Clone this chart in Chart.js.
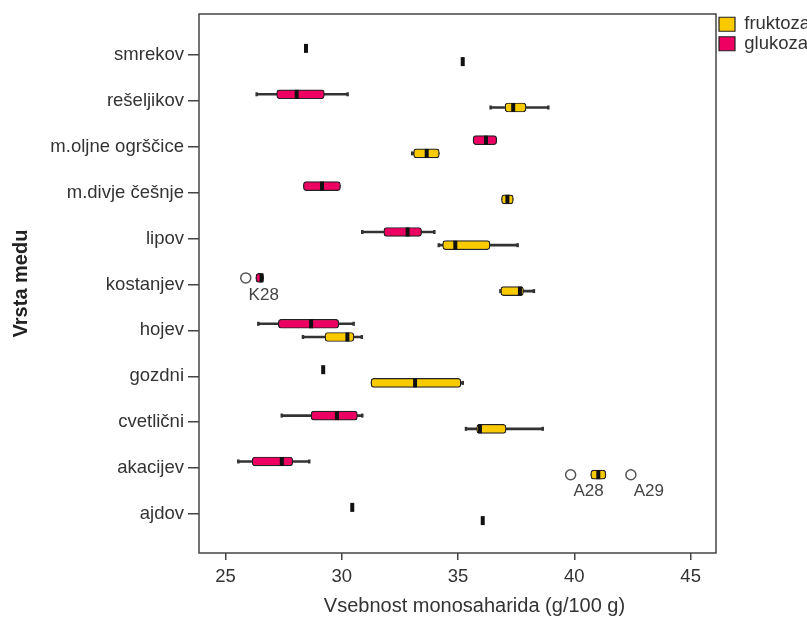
<!DOCTYPE html>
<html>
<head>
<meta charset="utf-8">
<script src="https://cdn.jsdelivr.net/npm/chart.js@4.4.1/dist/chart.umd.min.js"></script>
<style>
  html, body { margin: 0; padding: 0; background: #fff; }
  #wrap { width: 807px; height: 618px; }
</style>
</head>
<body>
<div id="wrap"><canvas id="boxChart"></canvas></div>
<script>
const categories = ["smrekov", "rešeljikov", "m.oljne ogrščice", "m.divje češnje", "lipov",
  "kostanjev", "hojev", "gozdni", "cvetlični", "akacijev", "ajdov"];
const xTicks = [25, 30, 35, 40, 45];

// fruktoza: min, Q1, mediana, Q3, max
const fruMin = [35.2, 36.40, 33.03, 36.87, 34.17, 36.82, 28.33, 31.26, 35.34, 40.71, 36.06];
const fruQ1  = [35.2, 37.02, 33.09, 36.87, 34.34, 36.84, 29.28, 31.26, 35.80, 40.71, 36.06];
const fruMed = [35.2, 37.37, 33.65, 37.12, 34.88, 37.66, 30.24, 33.15, 35.94, 41.03, 36.06];
const fruQ3  = [35.2, 37.92, 34.19, 37.37, 36.37, 37.81, 30.52, 35.12, 37.06, 41.35, 36.06];
const fruMax = [35.2, 38.88, 34.19, 37.37, 37.56, 38.26, 30.86, 35.20, 38.64, 41.35, 36.06];

// glukoza
const gluMin = [28.46, 26.34, 35.65, 28.35, 30.88, 26.31, 26.41, 29.2, 27.42, 25.55, 30.45];
const gluQ1  = [28.46, 27.20, 35.65, 28.35, 31.81, 26.31, 27.27, 29.2, 28.68, 26.15, 30.45];
const gluMed = [28.46, 28.06, 36.20, 29.15, 32.83, 26.55, 28.68, 29.2, 29.79, 27.42, 30.45];
const gluQ3  = [28.46, 29.25, 36.66, 29.94, 33.43, 26.63, 29.87, 29.2, 30.67, 27.89, 30.45];
const gluMax = [28.46, 30.25, 36.66, 29.94, 33.98, 26.63, 30.51, 29.2, 30.88, 28.60, 30.45];

// osamelci
const fruOutliers = [39.84, 42.43];
const fruOutlierCat = ["akacijev", "akacijev"];
const fruOutlierLabel = ["A28", "A29"];
const gluOutliers = [25.87];
const gluOutlierCat = ["kostanjev"];
const gluOutlierLabel = ["K28"];

const FRU_COLOR = "#FACA00";
const GLU_COLOR = "#EE0062";
const OFF = 0.144; // odmik serije od črte kategorije
const FONT = "'Liberation Sans', Arial, sans-serif";

Chart.defaults.font.family = FONT;
Chart.defaults.color = "#333";

function boxData(q1, q3, off) {
  return categories.map((c, i) => ({ x: [q1[i], q3[i]], y: i + off }));
}
function whiskerData(mn, mx, off) {
  return categories.map((c, i) => ({ x: [mn[i], mx[i]], y: i + off }));
}
function medianData(med, off) {
  return categories.map((c, i) => ({ x: med[i], y: i + off }));
}
function capData(mn, q1, q3, mx, off) {
  const pts = [];
  categories.forEach((c, i) => {
    if (mn[i] < q1[i]) pts.push({ x: mn[i], y: i + off });
    if (mx[i] > q3[i]) pts.push({ x: mx[i], y: i + off });
  });
  return pts;
}
function outlierData(vals, cats, off) {
  return vals.map((v, k) => ({ x: v, y: categories.indexOf(cats[k]) + off }));
}

const boxStyle = {
  type: "bar", indexAxis: "y", grouped: false, barThickness: 9, barPercentage: 1,
  borderColor: "#222", borderWidth: 1.2, borderRadius: 3, borderSkipped: false, order: 1,
};
const whiskerStyle = {
  type: "bar", indexAxis: "y", grouped: false, barThickness: 2, barPercentage: 1,
  backgroundColor: "#333", borderWidth: 0, order: 3,
};
const medianStyle = {
  type: "scatter", pointStyle: "line", pointRotation: 90, pointRadius: 4.5,
  pointBorderWidth: 4, pointBorderColor: "#111", order: 0,
};
const capStyle = {
  type: "scatter", pointStyle: "line", pointRotation: 90, pointRadius: 2,
  pointBorderWidth: 2.5, pointBorderColor: "#333", order: 2,
};
const outlierStyle = {
  type: "scatter", pointStyle: "circle", pointRadius: 5, pointBorderWidth: 1.5,
  pointBorderColor: "#555", pointBackgroundColor: "#fff", order: 0,
};

// okvir okoli risalne površine
const frame = {
  id: "frame",
  beforeDatasetsDraw(chart) {
    const { ctx, chartArea: a } = chart;
    ctx.save();
    ctx.strokeStyle = "#444";
    ctx.lineWidth = 1.5;
    ctx.strokeRect(a.left, a.top, a.right - a.left, a.bottom - a.top);
    ctx.restore();
  },
};

// oznake osamelcev + naslov osi x
const extraText = {
  id: "extraText",
  afterDatasetsDraw(chart) {
    const ctx = chart.ctx;
    ctx.save();
    ctx.fillStyle = "#444";
    ctx.font = "17px " + FONT;
    ctx.textAlign = "center";
    ctx.textBaseline = "middle";
    chart.data.datasets.forEach((ds, di) => {
      if (!ds.pointLabels) return;
      chart.getDatasetMeta(di).data.forEach((pt, k) => {
        ctx.fillText(ds.pointLabels[k], pt.x + 18, pt.y + 17);
      });
    });
    const a = chart.chartArea;
    ctx.fillStyle = "#333";
    ctx.font = "20px " + FONT;
    ctx.fillText("Vsebnost monosaharida (g/100 g)", (a.left + a.right) / 2 + 17, 606);
    ctx.restore();
  },
};

const legendNudge = {
  id: "legendNudge",
  afterLayout(chart) { chart.legend.left += 2; chart.legend.right += 2; },
};

new Chart(document.getElementById("boxChart"), {
  type: "bar",
  data: {
    datasets: [
      { ...boxStyle, label: "fruktoza", backgroundColor: FRU_COLOR, data: boxData(fruQ1, fruQ3, OFF) },
      { ...boxStyle, label: "glukoza", backgroundColor: GLU_COLOR, data: boxData(gluQ1, gluQ3, -OFF) },
      { ...whiskerStyle, label: "w-fru", data: whiskerData(fruMin, fruMax, OFF) },
      { ...whiskerStyle, label: "w-glu", data: whiskerData(gluMin, gluMax, -OFF) },
      { ...medianStyle, label: "m-fru", data: medianData(fruMed, OFF) },
      { ...medianStyle, label: "m-glu", data: medianData(gluMed, -OFF) },
      { ...capStyle, label: "c-fru", data: capData(fruMin, fruQ1, fruQ3, fruMax, OFF) },
      { ...capStyle, label: "c-glu", data: capData(gluMin, gluQ1, gluQ3, gluMax, -OFF) },
      { ...outlierStyle, label: "o-fru", pointLabels: fruOutlierLabel, data: outlierData(fruOutliers, fruOutlierCat, OFF) },
      { ...outlierStyle, label: "o-glu", pointLabels: gluOutlierLabel, data: outlierData(gluOutliers, gluOutlierCat, -OFF) },
    ],
  },
  options: {
    responsive: true,
    maintainAspectRatio: false,
    animation: false,
    devicePixelRatio: 1,
    layout: { padding: { top: 14, right: 0, bottom: 0, left: 0 } },
    plugins: {
      tooltip: { enabled: false },
      legend: {
        position: "right",
        align: "start",
        maxWidth: 91,
        labels: {
          boxWidth: 16, boxHeight: 14, padding: 1,
          font: { size: 18.5 }, color: "#333",
          filter: (item) => item.datasetIndex <= 1,
        },
      },
    },
    scales: {
      x: {
        type: "linear",
        position: "bottom",
        offset: false,
        beginAtZero: false,
        min: 23.86,
        max: 46.09,
        afterBuildTicks: (s) => { s.ticks = xTicks.map((v) => ({ value: v })); },
        afterFit: (s) => { s.height = 65; },
        border: { display: false },
        grid: { offset: false, drawOnChartArea: false, drawTicks: true, tickLength: 7, color: "#444", lineWidth: 1.5 },
        ticks: { font: { size: 18.5 }, color: "#333", padding: 6, maxRotation: 0 },
      },
      y: {
        type: "linear",
        position: "left",
        offset: false,
        beginAtZero: false,
        reverse: true,
        min: -0.893,
        max: 10.85,
        afterBuildTicks: (s) => { s.ticks = categories.map((c, i) => ({ value: i })); },
        afterFit: (s) => { s.width = 199; s.paddingTop = 0; s.paddingBottom = 0; },
        border: { display: false },
        grid: { offset: false, drawOnChartArea: false, drawTicks: true, tickLength: 11, color: "#444", lineWidth: 1.5 },
        ticks: {
          font: { size: 18.5 }, color: "#333", padding: 4, autoSkip: false,
          callback: (v) => categories[v],
        },
        title: {
          display: true, text: "Vrsta medu", color: "#222",
          font: { size: 20, weight: "bold" }, padding: { top: 9, bottom: 0 },
        },
      },
    },
  },
  plugins: [frame, extraText, legendNudge],
});
</script>
</body>
</html>
